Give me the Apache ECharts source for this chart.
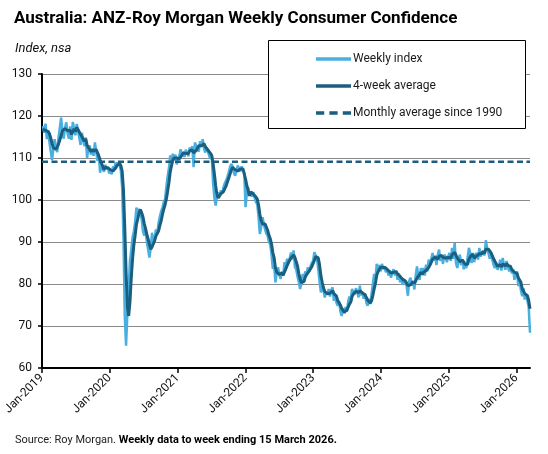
<!DOCTYPE html>
<html><head><meta charset="utf-8">
<script src="https://cdn.jsdelivr.net/npm/echarts@6/dist/echarts.min.js"></script>
<style>html,body{margin:0;padding:0;background:#fff}#c{width:548px;height:454px}</style>
</head><body><div id="c"></div>
<script>
// First week-ending date (Sunday) of each calendar year's block of data
const weekStarts = ['2019-01-06','2020-01-05','2021-01-03','2022-01-02','2023-01-01','2024-01-07','2025-01-05','2026-01-04'];

const weekly2019 = [117.6,116.0,118.2,114.5,116.5,113.8,114.2,109.5,112.0,114.5,112.5,111.4,114.8,115.2,119.6,116.4,114.6,117.2,118.5,115.8,114.6,117.5,114.3,118.6,117.0,115.4,118.1,116.5,114.8,113.1,116.0,114.2,112.8,114.9,110.0,112.3,113.0,110.8,112.1,110.5,113.7,111.6,109.3,111.0,106.5,108.2,107.9,106.7,108.4,107.3,108.0,106.3];
const weekly2020 = [107.0,106.1,108.0,107.5,108.9,108.2,109.0,108.5,107.0,103.0,91.0,72.5,65.3,72.9,79.1,85.5,88.1,91.1,92.5,94.8,98.2,96.6,97.9,98.0,95.5,92.6,91.5,93.0,90.0,88.2,86.3,88.6,92.2,89.5,90.9,93.0,92.0,94.5,96.0,97.3,98.2,99.5,100.2,103.0,105.6,107.5,110.6,109.0,111.0,109.5,110.8,108.5];
const weekly2021 = [109.5,110.5,112.1,110.8,111.5,110.2,112.0,111.7,110.4,112.5,111.8,112.8,107.8,113.7,112.9,113.3,111.5,114.0,112.6,114.5,112.3,111.3,112.5,111.6,110.5,109.8,110.3,104.0,100.5,98.7,101.0,101.8,101.0,102.3,101.5,103.0,104.0,104.6,105.5,106.6,107.8,108.6,108.0,106.5,105.8,107.0,108.2,107.5,106.8,108.0,107.2,106.5];
const weekly2022 = [98.3,101.5,103.0,101.0,102.0,100.8,101.9,100.5,99.5,99.0,96.0,91.9,93.5,95.9,94.6,93.0,92.0,91.5,90.0,89.5,87.0,83.6,84.5,80.4,82.5,84.0,82.2,81.2,83.0,82.0,85.2,84.3,86.0,85.0,86.2,87.5,85.8,88.0,84.0,83.5,81.8,80.5,78.8,80.2,82.4,81.0,83.0,82.5,84.0,83.0,84.2,85.0];
const weekly2023 = [85.5,87.6,87.8,86.0,83.5,80.5,78.0,79.5,78.5,76.8,78.0,77.5,78.8,77.0,78.5,79.2,76.0,77.5,75.5,74.8,76.0,73.5,72.4,74.2,73.0,74.5,73.4,75.8,77.0,76.5,78.8,78.0,77.5,79.0,78.2,76.8,79.6,77.3,78.0,76.5,77.8,75.5,74.8,76.5,75.2,77.5,80.0,82.4,81.0,84.8,83.5,84.5,83.0];
const weekly2024 = [84.8,83.5,84.2,82.8,83.6,82.0,83.2,81.5,82.8,83.5,82.0,83.2,81.0,82.5,80.4,81.5,79.8,81.0,80.5,79.5,77.2,80.8,81.5,79.6,80.5,78.7,82.0,84.2,82.0,81.0,83.8,82.5,83.8,82.0,84.6,83.0,85.8,84.5,86.0,87.4,85.5,86.8,84.5,86.9,88.2,85.5,86.5,84.8,87.0,86.5,85.2,86.5];
const weekly2025 = [87.4,85.5,88.6,86.0,89.8,85.0,83.8,85.5,87.0,84.5,85.8,83.5,84.8,83.8,86.5,88.6,87.2,85.0,87.4,85.2,86.8,87.4,85.8,88.6,86.5,87.8,88.2,86.8,90.4,88.5,87.4,86.0,87.5,85.8,84.5,83.8,85.0,83.4,84.0,85.8,83.2,86.2,84.5,83.4,85.5,84.0,83.0,84.2,82.5,83.6,81.0,82.5];
const weekly2026 = [83.0,79.5,80.5,78.5,77.1,79.0,76.3,77.5,76.0,74.5,68.4];

const avg2019 = [116.8,116.5,116.6,116.6,116.3,115.8,114.8,113.5,112.4,112.6,112.1,112.6,113.3,113.5,115.3,116.5,116.5,117.0,116.7,116.5,116.5,116.6,115.6,116.3,116.9,116.3,117.3,116.8,116.2,115.6,115.1,114.5,114.0,114.5,113.0,112.5,112.6,111.5,112.1,111.6,111.8,112.0,111.3,111.4,109.6,108.8,108.4,107.3,107.8,107.6,107.6,107.5];
const avg2020 = [107.2,106.9,106.9,107.2,107.6,108.2,108.4,108.7,108.2,106.9,102.4,93.4,83.0,74.5,72.4,75.7,81.4,86.0,89.3,91.6,94.2,95.5,96.9,97.7,97.0,96.0,94.4,93.2,91.8,90.7,89.4,88.3,88.8,89.2,90.3,91.4,91.4,92.6,93.9,95.0,96.5,97.8,98.8,100.2,102.1,104.1,106.7,108.2,109.5,110.0,110.1,110.0];
const avg2021 = [109.6,109.8,110.2,110.7,111.2,111.2,111.1,111.4,111.1,111.7,111.6,111.9,111.2,111.5,111.8,111.9,112.9,112.9,112.9,113.2,113.4,112.7,112.7,111.9,111.5,111.1,110.6,108.7,106.2,103.4,101.1,100.5,100.6,101.5,101.7,102.0,102.7,103.3,104.3,105.2,106.1,107.1,107.8,107.7,107.2,106.8,106.9,107.1,107.4,107.6,107.4,107.1];
const avg2022 = [105.0,103.4,102.3,101.0,101.9,101.7,101.4,101.3,100.7,100.2,98.8,96.6,95.1,94.3,94.0,94.3,93.9,92.8,91.6,90.8,89.5,87.5,86.2,83.9,82.8,82.9,82.3,82.5,82.6,82.1,82.9,83.6,84.4,85.1,85.4,86.2,86.1,86.9,86.3,85.3,84.3,82.5,81.2,80.3,80.5,80.6,81.7,82.2,82.6,83.1,83.4,84.1];
const avg2023 = [84.4,85.6,86.5,86.7,86.2,84.5,82.0,80.4,79.1,78.2,78.2,77.7,77.8,77.8,78.0,78.4,77.7,77.8,77.1,76.0,76.0,75.0,74.2,74.0,73.3,73.5,73.8,74.2,75.2,75.7,77.0,77.6,77.7,78.3,78.2,77.9,78.4,78.0,77.9,77.9,77.4,77.0,76.2,76.2,75.5,76.0,77.3,78.8,80.2,82.1,82.9,83.5,84.0];
const avg2024 = [84.0,84.0,83.9,83.8,83.5,83.2,82.9,82.6,82.4,82.8,82.5,82.9,82.4,82.2,81.8,81.4,81.1,80.7,80.7,80.2,79.6,79.5,79.8,79.8,80.6,80.1,80.2,81.4,81.7,82.3,82.8,82.3,82.8,83.0,83.2,83.4,83.9,84.5,84.8,85.9,85.9,86.4,86.1,85.9,86.6,86.3,86.8,86.3,86.0,86.2,85.9,86.3];
const avg2025 = [86.4,86.2,87.0,86.9,87.5,87.4,86.2,86.0,85.3,85.2,85.7,85.2,84.7,84.5,84.7,85.9,86.5,86.8,87.1,86.2,86.1,86.7,86.3,87.2,87.1,87.2,87.8,87.3,88.3,88.5,88.3,88.1,87.4,86.7,86.0,85.4,84.8,84.2,84.1,84.6,84.1,84.8,84.9,84.3,84.9,84.4,84.0,84.2,83.4,83.3,82.8,82.4];
const avg2026 = [82.5,81.5,81.4,80.4,78.9,78.8,77.7,77.5,77.2,76.1,74.1];

const monthlyAverageSince1990 = 109.1;

const tickDates = ['2019-01-01','2020-01-01','2021-01-01','2022-01-01','2023-01-01','2024-01-01','2025-01-01','2026-01-01'];
const tickLabels = ['Jan-2019','Jan-2020','Jan-2021','Jan-2022','Jan-2023','Jan-2024','Jan-2025','Jan-2026'];
const seriesNames = ['Weekly index','4-week average','Monthly average since 1990'];

function toTime(s, addDays) {
  const p = s.split('-').map(Number);
  return Date.UTC(p[0], p[1] - 1, p[2] + (addDays || 0));
}
function build(blocks) {
  const out = [];
  blocks.forEach(function (vals, b) {
    vals.forEach(function (v, i) { out.push([toTime(weekStarts[b], 7 * i), v]); });
  });
  return out;
}
const weeklyData = build([weekly2019, weekly2020, weekly2021, weekly2022, weekly2023, weekly2024, weekly2025, weekly2026]);
const avgData = build([avg2019, avg2020, avg2021, avg2022, avg2023, avg2024, avg2025, avg2026]);
const xMin = toTime('2019-01-01');
const xMax = weeklyData[weeklyData.length - 1][0];
const tickValues = tickDates.map(function (d) { return toTime(d); });

const FONT = 'Roboto';
const LIGHT = '#49afe1', DARK = '#1a5e80';
const SOLID_ICON = 'path://M0,0H35V3.5H0Z';
const DASH_ICON = 'path://M0,0H8V3.5H0Z M13,0H21V3.5H13Z M26,0H34V3.5H26Z';

const chart = echarts.init(document.getElementById('c'), null, { renderer: 'canvas' });
chart.setOption({
  animation: false,
  backgroundColor: '#fff',
  textStyle: { fontFamily: FONT },
  title: [
    { text: 'Australia: ANZ-Roy Morgan Weekly Consumer Confidence', left: 9, top: 5,
      textStyle: { fontFamily: FONT, fontSize: 17, fontWeight: 'bold', color: '#000' } },
    { text: 'Index, nsa', left: 10, top: 37,
      textStyle: { fontFamily: FONT, fontSize: 13, fontStyle: 'italic', fontWeight: 'normal', color: '#111' } },
    { text: '{r|Source: Roy Morgan. }{b|Weekly data to week ending 15 March 2026.}', left: 10, top: 430,
      textStyle: { fontWeight: 'normal', rich: {
        r: { fontFamily: FONT, fontSize: 11, fontWeight: 'normal', color: '#222' },
        b: { fontFamily: FONT, fontSize: 11, fontWeight: 'bold', color: '#000' } } } }
  ],
  graphic: [{
    type: 'rect', z: 5, silent: true,
    shape: { x: 268.5, y: 40.5, width: 257, height: 88 },
    style: { fill: '#fff', stroke: '#000', lineWidth: 1 }
  }],
  legend: {
    orient: 'vertical', left: 311, top: 48, z: 10,
    itemWidth: 35, itemHeight: 14, itemGap: 15,
    data: [
      { name: seriesNames[0], icon: SOLID_ICON, itemStyle: { color: LIGHT } },
      { name: seriesNames[1], icon: SOLID_ICON, itemStyle: { color: DARK } },
      { name: seriesNames[2], icon: DASH_ICON, itemStyle: { color: DARK } }
    ],
    itemStyle: { borderWidth: 0 },
    lineStyle: { opacity: 0 },
    textStyle: { fontFamily: FONT, fontSize: 12, color: '#1a1a1a', padding: [0, 0, 0, -3] }
  },
  grid: { left: 42, right: 18, top: 74, bottom: 86, containLabel: false },
  xAxis: {
    type: 'value', min: xMin, max: xMax,
    axisLine: { show: true, lineStyle: { color: '#000', width: 2 } },
    axisTick: { show: true, customValues: tickValues, length: 5, lineStyle: { color: '#000', width: 1.5 } },
    axisLabel: {
      customValues: tickValues, rotate: 45, margin: 8,
      fontFamily: FONT, fontSize: 12, color: '#111',
      formatter: function (v) { const i = tickValues.indexOf(v); return i >= 0 ? tickLabels[i] : ''; }
    },
    splitLine: { show: false }, minorTick: { show: false }
  },
  yAxis: {
    type: 'value', min: 60, max: 130, interval: 10,
    axisLine: { show: true, lineStyle: { color: '#000', width: 2 } },
    axisTick: { show: true, length: 4, lineStyle: { color: '#000', width: 1.5 } },
    axisLabel: { fontFamily: FONT, fontSize: 12, color: '#111', margin: 10 },
    splitLine: { show: true, lineStyle: { color: '#8a8a8a', width: 1 } }
  },
  series: [
    { name: seriesNames[0], type: 'line', data: weeklyData, symbol: 'none', showSymbol: false, z: 2,
      lineStyle: { color: LIGHT, width: 2.5 }, itemStyle: { color: LIGHT } },
    { name: seriesNames[1], type: 'line', data: avgData, symbol: 'none', showSymbol: false, z: 3,
      lineStyle: { color: DARK, width: 3 }, itemStyle: { color: DARK } },
    { name: seriesNames[2], type: 'line', data: [[xMin, monthlyAverageSince1990], [xMax, monthlyAverageSince1990]],
      symbol: 'none', showSymbol: false, z: 4,
      lineStyle: { color: DARK, width: 2.5, type: [6, 3.5] }, itemStyle: { color: DARK } }
  ]
});
</script>
</body></html>
